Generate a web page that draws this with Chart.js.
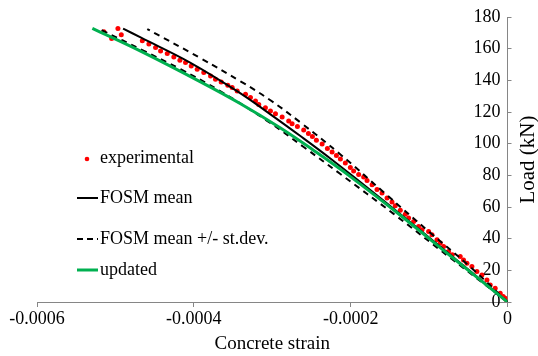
<!DOCTYPE html>
<html>
<head>
<meta charset="utf-8">
<script src="https://cdn.jsdelivr.net/npm/chart.js@4.4.1/dist/chart.umd.min.js"></script>
<style>
  html, body { margin: 0; padding: 0; background: #fff; }
  #wrap { width: 538px; height: 356px; }
</style>
</head>
<body>
<div id="wrap"><canvas id="loadChart" width="538" height="356"></canvas></div>
<script>
// strain values are in (micro) units written as e-6
var expStrain = [-514.7e-6, -496.8e-6, -492.5e-6, -504.8e-6, -465.7e-6, -457.3e-6, -448.8e-6, -442.4e-6, -433.9e-6, -425.5e-6,
  -417.8e-6, -410.6e-6, -403.3e-6, -395.7e-6, -387.3e-6, -378.7e-6, -372.4e-6, -365.1e-6, -356.7e-6, -351.1e-6,
  -344.7e-6, -334.1e-6, -327.8e-6, -321.4e-6, -317.2e-6, -308.7e-6, -302.3e-6, -295.9e-6, -287.4e-6, -279.0e-6,
  -274.7e-6, -267.9e-6, -259.9e-6, -253.9e-6, -248.8e-6, -243.7e-6, -236.4e-6, -229.7e-6, -223.7e-6, -218.2e-6,
  -213.1e-6, -206.8e-6, -200.4e-6, -196.2e-6, -189.8e-6, -183.4e-6, -179.1e-6, -172.7e-6, -166.4e-6, -160.0e-6,
  -153.6e-6, -147.3e-6, -143.1e-6, -136.7e-6, -130.3e-6, -126.1e-6, -119.7e-6, -113.4e-6, -109.0e-6, -100.6e-6,
  -96.3e-6, -89.9e-6, -85.7e-6, -81.5e-6, -75.2e-6, -70.4e-6, -60.3e-6, -56.1e-6, -51.7e-6, -45.4e-6,
  -39.0e-6, -32.6e-6, -26.2e-6, -22.0e-6, -15.7e-6, -9.3e-6, -5.5e-6, -2.9e-6, -0.8e-6];
var expLoad = [170.7, 172.8, 168.8, 166.5, 165.0, 162.9, 160.8, 158.6, 157.0, 154.8,
  152.7, 151.3, 149.1, 147.0, 144.9, 142.8, 140.7, 139.0, 136.9, 135.4,
  133.3, 131.2, 129.1, 126.9, 124.8, 122.7, 120.6, 118.9, 116.8, 114.3,
  112.6, 110.9, 108.7, 106.5, 104.6, 102.2, 99.8, 97.0, 94.7, 92.5,
  90.3, 87.8, 84.9, 82.7, 80.5, 78.9, 76.7, 74.1, 71.0, 68.8,
  65.7, 63.1, 60.8, 58.0, 55.4, 53.0, 50.9, 47.7, 45.6, 44.5,
  42.5, 39.3, 37.2, 35.0, 31.9, 29.8, 28.7, 26.6, 24.5, 22.4,
  19.2, 17.1, 13.9, 10.8, 8.7, 5.5, 3.5, 2.3, 0.2];

var meanStrain = [0, -73.0e-6, -162.2e-6, -225.9e-6, -264.1e-6, -302.3e-6, -340.5e-6, -404.2e-6, -467.9e-6, -490.2e-6];
var meanLoad = [0, 29.8, 65.7, 90.6, 104.8, 118.5, 131.8, 151.1, 167.1, 172.7];

var upperStrain = [0, -47.5e-6, -98.5e-6, -155.8e-6, -213.1e-6, -264.1e-6, -302.3e-6, -340.5e-6, -391.5e-6, -459.4e-6];
var upperLoad = [0, 22.2, 43.7, 68.4, 93.2, 113.4, 127.4, 139.4, 154.0, 172.4];

var lowerStrain = [0, -73.0e-6, -145.6e-6, -213.1e-6, -259.9e-6, -306.5e-6, -366.0e-6, -416.9e-6, -463.7e-6, -517.6e-6];
var lowerLoad = [0, 27.9, 55.8, 80.8, 97.9, 114.4, 133.1, 147.0, 158.6, 171.7];

var updStrain = [0, -73.0e-6, -136.7e-6, -200.4e-6, -248.8e-6, -289.5e-6, -340.5e-6, -391.5e-6, -467.9e-6, -529.4e-6];
var updLoad = [0, 29.2, 54.8, 79.2, 96.3, 109.9, 125.2, 139.0, 158.4, 172.8];

var xTicks = [-0.0006, -0.0004, -0.0002, 0];
var yTicks = [0, 20, 40, 60, 80, 100, 120, 140, 160, 180];

function pts(xs, ys) {
  return xs.map(function (x, i) { return { x: x, y: ys[i] }; });
}

var serif = "'Liberation Serif', 'Times New Roman', serif";
var axisGrey = "#868686";

// legend drawn inside the plot area, left side + the y title (reads upward)
var insideLegend = {
  id: "insideLegend",
  afterDraw: function (chart) {
    var ctx = chart.ctx;
    var items = [
      { text: "experimental", y: 158, kind: "dot" },
      { text: "FOSM mean", y: 198, kind: "solid" },
      { text: "FOSM mean +/- st.dev.", y: 239, kind: "dash" },
      { text: "updated", y: 270, kind: "green" }
    ];
    ctx.save();
    ctx.font = "18px " + serif;
    ctx.fillStyle = "#000";
    ctx.textBaseline = "middle";
    items.forEach(function (it) {
      if (it.kind === "dot") {
        ctx.beginPath();
        ctx.fillStyle = "#ff0000";
        ctx.arc(87, it.y + 1, 2.3, 0, Math.PI * 2);
        ctx.fill();
      } else {
        ctx.beginPath();
        ctx.lineWidth = it.kind === "green" ? 3 : 2;
        ctx.strokeStyle = it.kind === "green" ? "#00b050" : "#000";
        ctx.setLineDash(it.kind === "dash" ? [6, 4] : []);
        ctx.moveTo(77, it.y);
        ctx.lineTo(98, it.y);
        ctx.stroke();
        ctx.setLineDash([]);
      }
      ctx.fillStyle = "#000";
      ctx.fillText(it.text, 100, it.y);
    });

    var area = chart.chartArea;
    ctx.translate(528, (area.top + area.bottom) / 2);
    ctx.rotate(-Math.PI / 2);
    ctx.textAlign = "center";
    ctx.font = "21px " + serif;
    ctx.fillText("Load (kN)", 0, 0);
    ctx.restore();
  }
};

new Chart("loadChart", {
  type: "scatter",
  data: {
    datasets: [{
      label: "updated",
      data: pts(updStrain, updLoad),
      showLine: true,
      borderColor: "#00b050",
      borderWidth: 3,
      pointRadius: 0,
      tension: 0.4
    }, {
      label: "FOSM mean +/- st.dev.",
      data: pts(lowerStrain, lowerLoad),
      showLine: true,
      borderColor: "#000",
      borderWidth: 2,
      borderDash: [6, 5],
      pointRadius: 0,
      tension: 0.4
    }, {
      label: "FOSM mean +/- st.dev. (upper)",
      data: pts(upperStrain, upperLoad),
      showLine: true,
      borderColor: "#000",
      borderWidth: 2,
      borderDash: [6, 5],
      pointRadius: 0,
      tension: 0.4
    }, {
      label: "FOSM mean",
      data: pts(meanStrain, meanLoad),
      showLine: true,
      borderColor: "#000",
      borderWidth: 2,
      pointRadius: 0,
      tension: 0.4
    }, {
      label: "experimental",
      data: pts(expStrain, expLoad),
      showLine: false,
      pointRadius: 2.5,
      pointBackgroundColor: "#ff0000",
      pointBorderWidth: 0
    }]
  },
  options: {
    responsive: false,
    animation: false,
    events: [],
    layout: { padding: { left: 37, top: 17, right: 0, bottom: 0 } },
    plugins: { legend: { display: false }, tooltip: { enabled: false } },
    scales: {
      x: {
        type: "linear",
        min: xTicks[0],
        max: xTicks[xTicks.length - 1],
        afterBuildTicks: function (axis) {
          axis.ticks = xTicks.map(function (v) { return { value: v }; });
        },
        afterFit: function (axis) { axis.height = 54; },
        border: { color: axisGrey, width: 1 },
        grid: { drawOnChartArea: false, color: axisGrey, tickLength: 5 },
        ticks: {
          color: "#000",
          font: { family: serif, size: 18 },
          padding: 1,
          maxRotation: 0,
          callback: function (v) { return v === 0 ? "0" : v.toFixed(4); }
        },
        title: {
          display: true,
          text: "Concrete strain",
          color: "#000",
          font: { family: serif, size: 19 },
          padding: { top: 0, bottom: 1 }
        }
      },
      y: {
        type: "linear",
        position: "right",
        min: 0,
        max: 180,
        afterBuildTicks: function (axis) {
          axis.ticks = yTicks.map(function (v) { return { value: v }; });
        },
        afterFit: function (axis) { axis.width = 30.5; },
        border: { color: axisGrey, width: 1 },
        grid: { drawOnChartArea: false, color: axisGrey, tickLength: 4 },
        ticks: {
          mirror: true,
          color: "#000",
          font: { family: serif, size: 18 },
          padding: -7
        },
        title: { display: false }
      }
    }
  },
  plugins: [insideLegend]
});
</script>
</body>
</html>
